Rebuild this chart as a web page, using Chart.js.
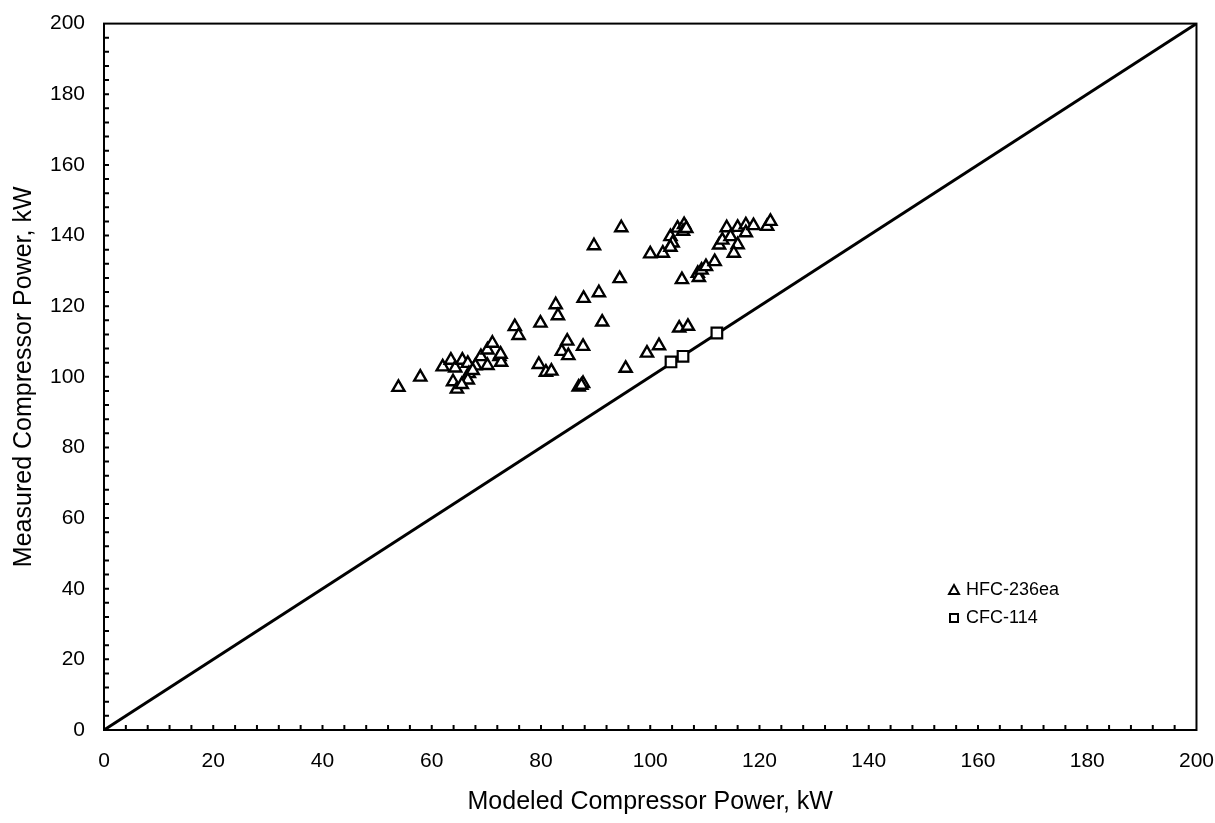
<!DOCTYPE html>
<html>
<head>
<meta charset="utf-8">
<script src="https://cdn.jsdelivr.net/npm/chart.js@4.4.1/dist/chart.umd.min.js"></script>
<style>
  html, body { margin: 0; padding: 0; background: #fff; }
  #wrap { width: 1215px; height: 823px; }
</style>
</head>
<body>
<div id="wrap"><canvas id="powerChart" width="1215" height="823"></canvas></div>
<script>
// HFC-236ea: modeled (x) vs measured (y) compressor power, kW
const hfcModeled = [
  53.9, 57.9, 62.0, 63.5, 64.3, 65.6, 66.6, 68.0, 66.8, 63.9, 64.6, 66.6, 65.5, 67.5,
  70.2, 69.0, 70.2, 71.1, 72.4, 72.7, 72.6, 75.2, 75.9, 79.6, 80.9, 81.9, 79.9, 82.7,
  83.1, 84.8, 83.8, 85.0, 87.7, 86.9, 87.7, 87.4, 87.8, 90.6, 91.2, 89.7, 94.7, 94.4,
  95.5, 99.4, 101.6, 100.0, 102.3, 103.7, 104.1, 103.7, 105.0, 106.2, 106.0, 106.6, 105.8,
  105.3, 106.9, 108.7, 108.9, 109.4, 110.2, 111.8, 112.6, 113.2, 114.0, 114.7, 116.0,
  116.0, 115.3, 117.5, 117.5, 118.9, 121.4, 122.0
];
const hfcMeasured = [
  97.0, 99.9, 102.8, 104.7, 102.5, 104.7, 103.8, 103.1, 100.9, 98.6, 96.5, 99.1, 97.8, 101.8,
  103.2, 105.7, 107.6, 109.5, 105.7, 104.1, 106.4, 114.2, 111.7, 103.5, 101.3, 101.6, 115.2, 120.4,
  117.3, 110.1, 107.2, 106.0, 108.6, 97.1, 98.1, 97.6, 122.2, 123.8, 115.5, 137.1, 142.2, 127.8,
  102.4, 106.7, 108.8, 134.8, 135.0, 139.7, 137.9, 136.7, 142.1, 143.1, 141.2, 142.0, 127.5,
  113.8, 114.3, 129.3, 128.1, 130.2, 131.2, 132.6, 137.3, 138.7, 142.2, 139.7, 142.3,
  137.4, 135.0, 143.0, 140.8, 142.8, 142.6, 144.0
];
// CFC-114
const cfcModeled = [103.8, 106.0, 112.2];
const cfcMeasured = [104.2, 105.8, 112.4];
// 1:1 reference line
const lineX = [0, 200];
const lineY = [0, 200];

const axisMin = 0;
const axisMax = 200;
const labelStep = 20;
const minorStep = 4;

const FONT = 'Liberation Sans, Arial, sans-serif';

function toPoints(xs, ys) {
  return xs.map((x, i) => ({ x: x, y: ys[i] }));
}

// frame round the plot and small inward ticks on the left and bottom axes
const frameTicks = {
  id: 'frameTicks',
  afterDraw(chart) {
    const { ctx, chartArea: a, scales } = chart;
    ctx.save();
    ctx.strokeStyle = '#000';
    ctx.lineWidth = 2;
    ctx.strokeRect(a.left, a.top, a.right - a.left, a.bottom - a.top);
    ctx.beginPath();
    for (let v = axisMin + minorStep; v < axisMax; v += minorStep) {
      const px = scales.x.getPixelForValue(v);
      ctx.moveTo(px, a.bottom);
      ctx.lineTo(px, a.bottom - 5);
      const py = scales.y.getPixelForValue(v);
      ctx.moveTo(a.left, py);
      ctx.lineTo(a.left + 5, py);
    }
    ctx.stroke();
    ctx.restore();
  }
};

// small legend inside the plot, lower right
const insideLegend = {
  id: 'insideLegend',
  afterDraw(chart) {
    const ctx = chart.ctx;
    const x = 954, y0 = 590, gap = 28;
    ctx.save();
    ctx.strokeStyle = '#000';
    ctx.fillStyle = '#fff';
    ctx.lineWidth = 2;
    // triangle
    ctx.beginPath();
    ctx.moveTo(x, y0 - 5);
    ctx.lineTo(x + 5, y0 + 4);
    ctx.lineTo(x - 5, y0 + 4);
    ctx.closePath();
    ctx.fill();
    ctx.stroke();
    // square
    ctx.beginPath();
    ctx.rect(x - 4, y0 + gap - 4, 8, 8);
    ctx.fill();
    ctx.stroke();
    ctx.fillStyle = '#000';
    ctx.font = '18px ' + FONT;
    ctx.textBaseline = 'middle';
    ctx.textAlign = 'left';
    ctx.fillText(chart.data.datasets[0].label, x + 12, y0);
    ctx.fillText(chart.data.datasets[1].label, x + 12, y0 + gap);
    ctx.restore();
  }
};

new Chart(document.getElementById('powerChart'), {
  type: 'scatter',
  data: {
    datasets: [{
      label: 'HFC-236ea',
      data: toPoints(hfcModeled, hfcMeasured),
      pointStyle: 'triangle',
      pointRadius: 7,
      borderColor: '#000',
      backgroundColor: '#fff',
      borderWidth: 2.4,
      order: 1
    }, {
      label: 'CFC-114',
      data: toPoints(cfcModeled, cfcMeasured),
      pointStyle: 'rect',
      pointRadius: 7.5,
      borderColor: '#000',
      backgroundColor: '#fff',
      borderWidth: 2.2,
      order: 1
    }, {
      label: '1:1',
      type: 'line',
      data: toPoints(lineX, lineY),
      borderColor: '#000',
      borderWidth: 3,
      pointRadius: 0,
      fill: false,
      order: 2
    }]
  },
  options: {
    responsive: false,
    animation: false,
    devicePixelRatio: 1,
    layout: { padding: { top: 21, right: 0, left: 0, bottom: 0 } },
    plugins: {
      legend: { display: false },
      tooltip: { enabled: false }
    },
    scales: {
      x: {
        type: 'linear',
        min: axisMin,
        max: axisMax,
        // transparent tick marks only push the labels down
        grid: { display: true, drawOnChartArea: false, drawTicks: true, tickLength: 18, color: 'rgba(0,0,0,0)' },
        border: { display: false },
        ticks: {
          stepSize: labelStep,
          color: '#000',
          padding: 1,
          maxRotation: 0,
          font: { family: FONT, size: 21 }
        },
        title: {
          display: true,
          text: 'Modeled Compressor Power, kW',
          color: '#000',
          padding: { top: 0, bottom: 6 },
          font: { family: FONT, size: 25 }
        },
        afterFit(scale) { scale.height = 93; }
      },
      y: {
        type: 'linear',
        min: axisMin,
        max: axisMax,
        grid: { display: false },
        border: { display: false },
        ticks: {
          stepSize: labelStep,
          color: '#000',
          padding: 11,
          font: { family: FONT, size: 21 }
        },
        title: {
          display: true,
          text: 'Measured Compressor Power, kW',
          color: '#000',
          padding: { top: 9, bottom: 0 },
          font: { family: FONT, size: 25 }
        },
        afterFit(scale) { scale.width = 104; }
      }
    }
  },
  plugins: [frameTicks, insideLegend]
});
</script>
</body>
</html>
